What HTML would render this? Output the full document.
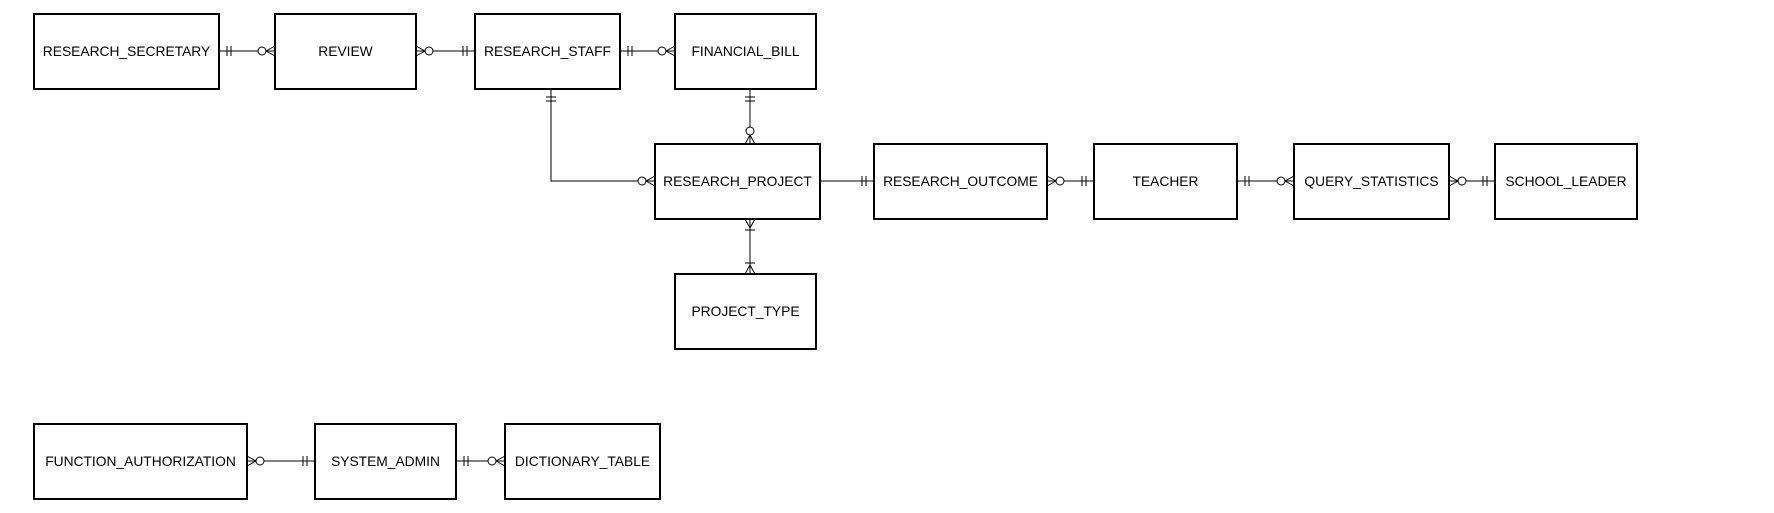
<!DOCTYPE html>
<html><head><meta charset="utf-8"><style>
html,body{margin:0;padding:0;background:#fff;}
svg{display:block;}
text{font-family:"Liberation Sans",Arial,sans-serif;font-size:13.8px;fill:#000;}
</style></head><body>
<svg width="1774" height="513" viewBox="0 0 1774 513" xmlns="http://www.w3.org/2000/svg">
<defs>
<g id="one" stroke="#000" stroke-width="1" fill="none"><line x1="8" y1="-5" x2="8" y2="5"/><line x1="12" y1="-5" x2="12" y2="5"/></g>
<g id="m0" stroke="#000" stroke-width="1" fill="none"><path d="M0,-5 L9,0 L0,5"/><circle cx="13" cy="0" r="4" fill="#fff"/></g>
<g id="m1" stroke="#000" stroke-width="1" fill="none"><path d="M0,-5 L9,0 L0,5"/><line x1="11" y1="-5" x2="11" y2="5"/></g>
</defs>
<g fill="#fff" stroke="#000" stroke-width="2">
<rect x="34" y="14" width="185" height="75"/>
<rect x="275" y="14" width="141" height="75"/>
<rect x="475" y="14" width="145" height="75"/>
<rect x="675" y="14" width="141" height="75"/>
<rect x="655" y="144" width="165" height="75"/>
<rect x="874" y="144" width="173" height="75"/>
<rect x="1094" y="144" width="143" height="75"/>
<rect x="1294" y="144" width="155" height="75"/>
<rect x="1495" y="144" width="142" height="75"/>
<rect x="675" y="274" width="141" height="75"/>
<rect x="34" y="424" width="213" height="75"/>
<rect x="315" y="424" width="141" height="75"/>
<rect x="505" y="424" width="155" height="75"/>
</g>
<g stroke="#000" stroke-width="1" fill="none">
<line x1="219" y1="51" x2="275" y2="51"/>
<line x1="416" y1="51" x2="475" y2="51"/>
<line x1="620" y1="51" x2="675" y2="51"/>
<polyline points="551,89 551,181 655,181"/>
<line x1="750" y1="89" x2="750" y2="144"/>
<line x1="820" y1="181" x2="874" y2="181"/>
<line x1="1047" y1="181" x2="1094" y2="181"/>
<line x1="1237" y1="181" x2="1294" y2="181"/>
<line x1="1449" y1="181" x2="1495" y2="181"/>
<line x1="750" y1="219" x2="750" y2="274"/>
<line x1="247" y1="461" x2="315" y2="461"/>
<line x1="456" y1="461" x2="505" y2="461"/>
</g>
<use href="#one" transform="translate(219,51)"/>
<use href="#m0" transform="translate(275,51) rotate(180)"/>
<use href="#m0" transform="translate(416,51)"/>
<use href="#one" transform="translate(475,51) rotate(180)"/>
<use href="#one" transform="translate(620,51)"/>
<use href="#m0" transform="translate(675,51) rotate(180)"/>
<use href="#one" transform="translate(551,89) rotate(90)"/>
<use href="#m0" transform="translate(655,181) rotate(180)"/>
<use href="#one" transform="translate(750,89) rotate(90)"/>
<use href="#m0" transform="translate(750,144) rotate(-90)"/>
<use href="#one" transform="translate(874,181) rotate(180)"/>
<use href="#m0" transform="translate(1047,181)"/>
<use href="#one" transform="translate(1094,181) rotate(180)"/>
<use href="#one" transform="translate(1237,181)"/>
<use href="#m0" transform="translate(1294,181) rotate(180)"/>
<use href="#m0" transform="translate(1449,181)"/>
<use href="#one" transform="translate(1495,181) rotate(180)"/>
<use href="#m1" transform="translate(750,219) rotate(90)"/>
<use href="#m1" transform="translate(750,274) rotate(-90)"/>
<use href="#m0" transform="translate(247,461)"/>
<use href="#one" transform="translate(315,461) rotate(180)"/>
<use href="#one" transform="translate(456,461)"/>
<use href="#m0" transform="translate(505,461) rotate(180)"/>
<g text-anchor="middle">
<text x="126.5" y="56">RESEARCH_SECRETARY</text>
<text x="345.5" y="56">REVIEW</text>
<text x="547.5" y="56">RESEARCH_STAFF</text>
<text x="745.5" y="56">FINANCIAL_BILL</text>
<text x="737.5" y="186">RESEARCH_PROJECT</text>
<text x="960.5" y="186">RESEARCH_OUTCOME</text>
<text x="1165.5" y="186">TEACHER</text>
<text x="1371.5" y="186">QUERY_STATISTICS</text>
<text x="1566" y="186">SCHOOL_LEADER</text>
<text x="745.5" y="316">PROJECT_TYPE</text>
<text x="140.5" y="466">FUNCTION_AUTHORIZATION</text>
<text x="385.5" y="466">SYSTEM_ADMIN</text>
<text x="582.5" y="466">DICTIONARY_TABLE</text>
</g>
</svg>
</body></html>
